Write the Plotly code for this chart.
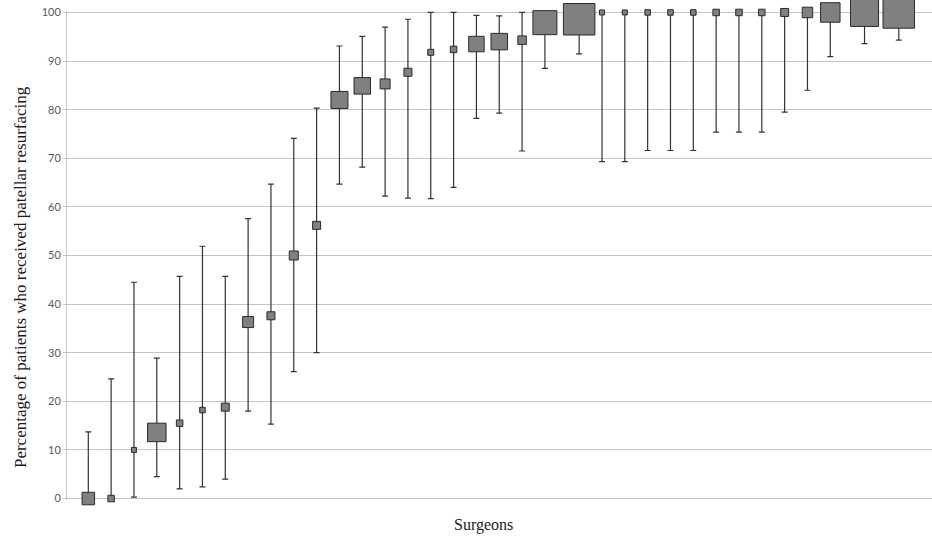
import plotly.graph_objects as go

# Surgeon positions along the (unlabelled) x axis
surgeon_x = list(range(1, 22)) + [22.5, 23.5, 24.5, 25.5, 26.5, 27.5, 28.5, 29.5,
                                   30.5, 31.5, 32.5, 33.5, 35, 36.5]
# Percentage of patients who received patellar resurfacing
pct = [0, 0, 10, 13.6, 15.5, 18.2, 18.8, 36.3, 37.6, 50, 56.2, 82.0, 84.9, 85.3,
       87.7, 91.8, 92.4, 93.5, 94.0, 94.3, 97.9, 98.6,
       100, 100, 100, 100, 100, 100, 100, 100, 100, 100, 100, 100, 100]
ci_lower = [0, 0, 0.3, 4.5, 2.0, 2.4, 4.0, 18.0, 15.3, 26.1, 30.0, 64.7, 68.2, 62.2,
            61.8, 61.7, 64.0, 78.2, 79.3, 71.5, 88.5, 91.5,
            69.3, 69.3, 71.6, 71.6, 71.6, 75.4, 75.4, 75.4, 79.5, 84.0, 90.9, 93.6, 94.3]
ci_upper = [13.7, 24.6, 44.5, 28.9, 45.7, 51.9, 45.7, 57.6, 64.7, 74.1, 80.3, 93.1, 95.1,
            97.0, 98.6, 100, 100, 99.4, 99.3, 100, 99.9, 99.9,
            100, 100, 100, 100, 100, 100, 100, 100, 100, 100, 100, 100, 100]
# Number of patients per surgeon (marker size)
patients = [25, 13, 10, 37, 13, 11, 16, 22, 16, 18, 16, 34, 33, 20, 16, 12, 13, 31, 33,
            17, 48, 63, 10, 10, 11, 11, 11, 13, 13, 13, 16, 21, 39, 56, 63]

err_plus = [u - v for u, v in zip(ci_upper, pct)]
err_minus = [v - l for v, l in zip(pct, ci_lower)]
sizes = [0.5 * n for n in patients]

fig = go.Figure()
fig.add_trace(go.Scatter(
    x=surgeon_x, y=pct, mode="markers",
    marker=dict(symbol="square", size=sizes, color="#808080", opacity=1,
                line=dict(color="#2a2a2a", width=1)),
    error_y=dict(type="data", symmetric=False, array=err_plus, arrayminus=err_minus,
                 color="#333333", thickness=1.2, width=3),
    cliponaxis=False, showlegend=False, hoverinfo="skip",
))

fig.update_layout(
    width=932, height=537,
    margin=dict(l=67, r=0, t=11, b=37),
    plot_bgcolor="white", paper_bgcolor="white",
    xaxis=dict(range=[0.067, 37.955], showgrid=False, zeroline=False,
               showticklabels=False, showline=False, ticks=""),
    yaxis=dict(range=[-0.3, 100.3], tickvals=list(range(0, 101, 10)),
               showgrid=True, gridcolor="#c4c4c4", gridwidth=1.3,
               zeroline=False, showline=True, linecolor="#c4c4c4", linewidth=1,
               ticks="outside", ticklen=3, tickcolor="#c4c4c4",
               tickfont=dict(family="Lato", size=11, color="#595959")),
    annotations=[
        dict(text="Percentage of patients who received patellar resurfacing",
             xref="paper", yref="paper", x=-0.0543, y=0.456, textangle=-90,
             showarrow=False, xanchor="center", yanchor="middle",
             font=dict(family="Liberation Serif", size=17, color="#1a1a1a")),
        dict(text="Surgeons", xref="paper", yref="paper", x=0.482, y=-0.052,
             showarrow=False, xanchor="center", yanchor="middle",
             font=dict(family="Liberation Serif", size=16, color="#1a1a1a")),
    ],
)

fig.write_html("out.html", config={"displayModeBar": False},
               post_script="document.body.style.margin='0';document.body.style.overflow='hidden';")
